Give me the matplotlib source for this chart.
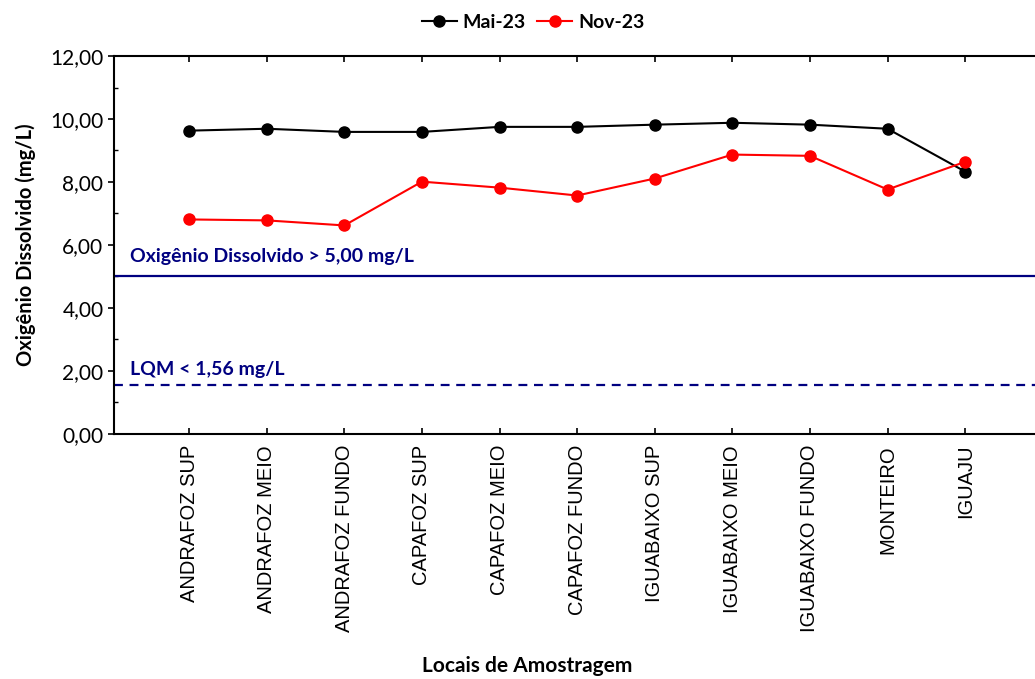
import numpy as np
import matplotlib.pyplot as plt
from matplotlib.ticker import MultipleLocator, FuncFormatter

# locais de amostragem
locais = ["ANDRAFOZ SUP", "ANDRAFOZ MEIO", "ANDRAFOZ FUNDO", "CAPAFOZ SUP",
          "CAPAFOZ MEIO", "CAPAFOZ FUNDO", "IGUABAIXO SUP", "IGUABAIXO MEIO",
          "IGUABAIXO FUNDO", "MONTEIRO", "IGUAJU"]

# oxigenio dissolvido (mg/L)
mai23 = [9.63, 9.69, 9.59, 9.59, 9.75, 9.75, 9.82, 9.88, 9.82, 9.69, 8.33]
nov23 = [6.81, 6.78, 6.62, 8.01, 7.82, 7.57, 8.11, 8.87, 8.83, 7.76, 8.64]

# limites
limite_od = 5.00
lqm = 1.56

plt.rcParams['font.family'] = ['Lato', 'DejaVu Sans']

fig = plt.figure(figsize=(10.35, 6.79), dpi=100)
ax = fig.add_axes([0.110, 0.361, 0.89, 0.5565])

x = np.arange(len(locais))
ax.plot(x, mai23, color='black', marker='o', markersize=8, linewidth=1.5, label='Mai-23')
ax.plot(x, nov23, color='red', marker='o', markersize=8, linewidth=1.5, label='Nov-23')

ax.axhline(limite_od, color='#000080', linewidth=1.6)
ax.axhline(lqm, color='#000080', linewidth=1.6, linestyle=(0, (4, 3)))
ax.text(-0.76, 5.63, "Oxigênio Dissolvido > 5,00 mg/L", color='#000080',
        fontsize=14, fontweight='bold', va='center')
ax.text(-0.76, 2.04, "LQM < 1,56 mg/L", color='#000080',
        fontsize=14, fontweight='bold', va='center')

ax.set_xlim(-0.97, 10.9)
ax.set_ylim(0, 12)
ax.yaxis.set_major_locator(MultipleLocator(2))
ax.yaxis.set_minor_locator(MultipleLocator(1))
ax.yaxis.set_major_formatter(FuncFormatter(lambda v, p: f"{v:.2f}".replace('.', ',')))
ax.tick_params(axis='y', which='major', labelsize=15, direction='out', length=4, width=1.2)
ax.tick_params(axis='y', which='minor', direction='in', length=3, width=1)

ax.set_xticks(x)
ax.set_xticklabels(locais, rotation=90, family=['Liberation Sans', 'DejaVu Sans'], fontsize=14.5)
ax.tick_params(axis='x', which='major', direction='in', length=4, width=1.2, top=True, pad=8)

ax.spines['right'].set_visible(False)
for s in ['left', 'bottom', 'top']:
    ax.spines[s].set_linewidth(1.5)

ax.set_ylabel("Oxigênio Dissolvido (mg/L)", fontsize=14.5, fontweight='bold', labelpad=10)
# titulo do eixo x posicionado na figura
fig.text(527 / 1035, 1 - 666 / 679, "Locais de Amostragem", fontsize=15,
         fontweight='bold', ha='center', va='center')

fig.legend(loc='upper center', bbox_to_anchor=(0.515, 1.005), ncol=2, frameon=False,
           prop={'weight': 'bold', 'size': 14}, handlelength=1.8, handletextpad=0.3,
           columnspacing=0.6)

plt.savefig("out.png", dpi=100)
